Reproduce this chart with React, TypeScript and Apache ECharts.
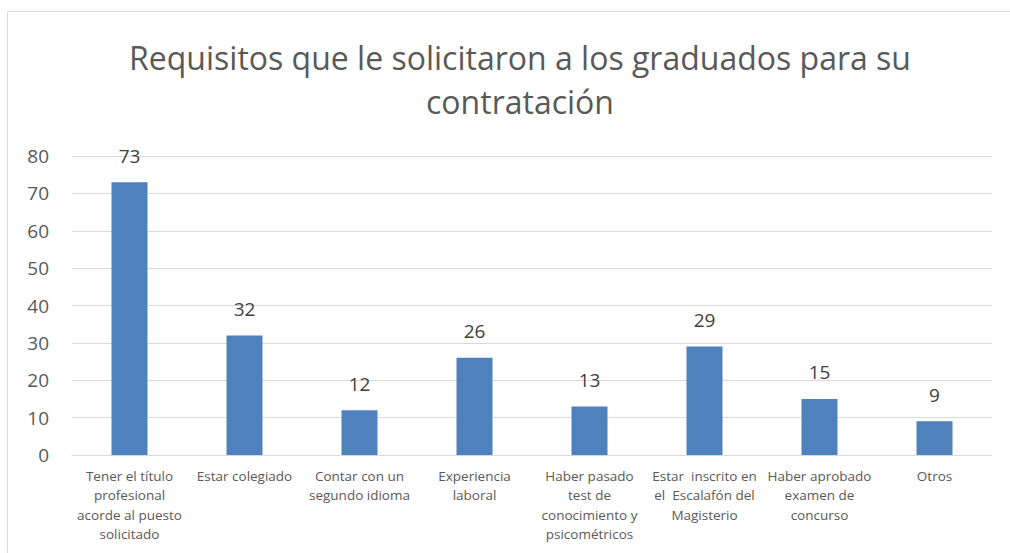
import React, { useEffect, useRef } from "react";
import * as echarts from "echarts";

const titleText = "Requisitos que le solicitaron a los graduados para su\ncontratación";
const categories = [
  "Tener el título\nprofesional\nacorde al puesto\nsolicitado",
  "Estar colegiado",
  "Contar con un\nsegundo idioma",
  "Experiencia\nlaboral",
  "Haber pasado\ntest de\nconocimiento y\npsicométricos",
  "Estar  inscrito en\nel  Escalafón del\nMagisterio",
  "Haber aprobado\nexamen de\nconcurso",
  "Otros",
];
const values = [73, 32, 12, 26, 13, 29, 15, 9];

const FONT = "'Open Sans', 'Noto Sans', sans-serif";

export default function App() {
  const ref = useRef<HTMLDivElement>(null);
  useEffect(() => {
    if (!ref.current) return;
    const chart = echarts.init(ref.current, null, { renderer: "svg" });
    chart.setOption({
      animation: false,
      backgroundColor: "#ffffff",
      title: {
        text: titleText,
        left: 515,
        textAlign: "center",
        top: 30,
        textStyle: {
          fontFamily: FONT,
          fontSize: 32,
          fontWeight: "normal",
          color: "#595959",
          lineHeight: 44,
        },
      },
      graphic: [
        {
          type: "rect",
          shape: { x: 7.5, y: 11.5, width: 1100, height: 700 },
          style: { fill: "none", stroke: "#d9d9d9", lineWidth: 1 },
          silent: true,
          z: -1,
        },
      ],
      grid: { left: 72, right: 18, top: 156, bottom: 98, containLabel: false },
      xAxis: {
        type: "category",
        data: categories,
        axisLine: { show: true, lineStyle: { color: "#d9d9d9", width: 1 } },
        axisTick: { show: false },
        axisLabel: {
          interval: 0,
          fontFamily: FONT,
          fontSize: 13.5,
          color: "#595959",
          lineHeight: 19.5,
          margin: 11,
          verticalAlign: "top",
        },
      },
      yAxis: {
        type: "value",
        min: 0,
        max: 80,
        interval: 10,
        axisLine: { show: false },
        axisTick: { show: false },
        splitLine: { lineStyle: { color: "#d9d9d9", width: 1 } },
        axisLabel: {
          fontFamily: FONT,
          fontSize: 19,
          color: "#595959",
          margin: 23,
        },
      },
      series: [
        {
          type: "bar",
          data: values,
          barWidth: 36,
          itemStyle: { color: "#4f81bd" },
          label: {
            show: true,
            position: "top",
            distance: 17,
            fontFamily: FONT,
            fontSize: 19,
            color: "#404040",
          },
        },
      ],
    });
    return () => chart.dispose();
  }, []);
  return (
    <div
      ref={ref}
      style={{ position: "absolute", left: 0, top: 0, width: 1010, height: 553 }}
    />
  );
}
